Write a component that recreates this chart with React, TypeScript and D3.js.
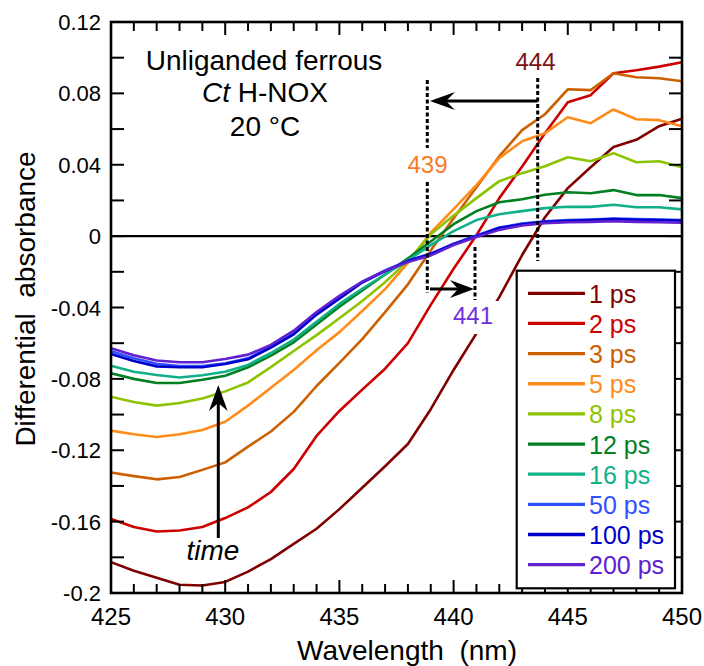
import React from "react";
import * as d3 from "d3";

const wavelengths = [425,426,427,428,429,430,431,432,433,434,435,436,437,438,439,440,441,442,443,444,445,446,447,448,449,450];

const s1ps = [-0.1827,-0.1875,-0.1915,-0.1954,-0.1958,-0.1938,-0.188,-0.181,-0.1725,-0.164,-0.153,-0.141,-0.129,-0.1165,-0.097,-0.075,-0.0545,-0.0342,-0.0106,0.0106,0.0269,0.0386,0.050,0.054,0.0616,0.0658];
const s2ps = [-0.1585,-0.163,-0.1655,-0.165,-0.163,-0.158,-0.152,-0.1434,-0.1305,-0.112,-0.098,-0.086,-0.0743,-0.060,-0.0385,-0.0183,0.0005,0.0213,0.039,0.0577,0.075,0.079,0.0913,0.093,0.095,0.0974];
const s3ps = [-0.1325,-0.1345,-0.1363,-0.135,-0.131,-0.1268,-0.118,-0.1095,-0.0985,-0.084,-0.071,-0.0577,-0.0426,-0.027,-0.008,0.010,0.0274,0.0448,0.0594,0.0683,0.0823,0.0818,0.0913,0.089,0.0885,0.0868];
const s5ps = [-0.109,-0.111,-0.1126,-0.111,-0.1086,-0.104,-0.095,-0.085,-0.075,-0.064,-0.0538,-0.042,-0.0297,-0.015,0.002,0.0151,0.0286,0.0437,0.0532,0.0577,0.0666,0.0633,0.071,0.0655,0.065,0.0616];
const s8ps = [-0.090,-0.093,-0.095,-0.0935,-0.091,-0.087,-0.082,-0.0734,-0.0644,-0.0555,-0.046,-0.0364,-0.0258,-0.014,0.001,0.0115,0.0213,0.0308,0.0353,0.0392,0.0442,0.042,0.0465,0.0414,0.042,0.0386];
const s12ps = [-0.0769,-0.080,-0.0823,-0.0823,-0.0805,-0.0782,-0.0735,-0.067,-0.0595,-0.0495,-0.0395,-0.0305,-0.0215,-0.0125,-0.003,0.0067,0.014,0.019,0.0207,0.0232,0.0246,0.024,0.0258,0.023,0.023,0.0213];
const s16ps = [-0.0726,-0.076,-0.0778,-0.0792,-0.078,-0.076,-0.0722,-0.0655,-0.058,-0.048,-0.038,-0.0295,-0.0215,-0.0135,-0.005,0.0028,0.009,0.0123,0.014,0.0157,0.0165,0.0164,0.0176,0.0162,0.0162,0.015];
const s50ps = [-0.0645,-0.0685,-0.0715,-0.0728,-0.0728,-0.0712,-0.0685,-0.062,-0.0545,-0.0435,-0.0345,-0.0257,-0.0192,-0.0137,-0.0098,-0.0042,0.0003,0.0048,0.007,0.0083,0.009,0.0093,0.0098,0.0095,0.0093,0.009];
const s100ps = [-0.066,-0.070,-0.073,-0.0735,-0.0735,-0.0717,-0.069,-0.0625,-0.055,-0.044,-0.035,-0.026,-0.0196,-0.014,-0.010,-0.0045,0.0,0.0045,0.0067,0.008,0.0086,0.009,0.0095,0.0092,0.009,0.0087];
const s200ps = [-0.0629,-0.0668,-0.0697,-0.0707,-0.0707,-0.0689,-0.0664,-0.061,-0.053,-0.0425,-0.0335,-0.0255,-0.0195,-0.0145,-0.0108,-0.005,-0.0005,0.0035,0.006,0.0073,0.0078,0.008,0.0083,0.008,0.0078,0.0075];

const seriesLabels = ["1 ps","2 ps","3 ps","5 ps","8 ps","12 ps","16 ps","50 ps","100 ps","200 ps"];
const seriesValues = [s1ps,s2ps,s3ps,s5ps,s8ps,s12ps,s16ps,s50ps,s100ps,s200ps];
const seriesColors = ["#800000","#cc0000","#cc6000","#ff8c1a","#8cc400","#008020","#10b088","#3050ff","#0000cc","#6020d0"];

const yTickLabels = ["0.12","0.08","0.04","0","-0.04","-0.08","-0.12","-0.16","-0.2"];
const xTickLabels = ["425","430","435","440","445","450"];

const FONT = "'Liberation Sans', Arial, Helvetica, sans-serif";

export default function App() {
  const L = 111, R = 682, T = 22, B = 593;
  const x = d3.scaleLinear().domain([425, 450]).range([L, R]);
  const y = d3.scaleLinear().domain([-0.2, 0.12]).range([B, T]);
  const line = d3.line<number>().x((_, i) => x(wavelengths[i])).y((v) => y(v));

  const xMinor = d3.range(425, 451, 1);
  const yMinor = d3.range(-0.2, 0.1201, 0.02).map((v) => Math.round(v * 100) / 100);

  const legX = 516.7, legY = 270.7, legW = 158.3, legH = 317.6;
  const rowY0 = 293.3, rowDy = 30.15;

  return (
    <svg width={704} height={666} style={{ position: "absolute", left: 0, top: 0 }} fontFamily={FONT}>
      <rect x={0} y={0} width={704} height={666} fill="#fff" />
      {/* zero line */}
      <line x1={L} x2={R} y1={y(0)} y2={y(0)} stroke="#000" strokeWidth={2.2} />
      {/* curves */}
      {seriesValues.map((vals, i) => (
        <path key={i} d={line(vals) || ""} fill="none" stroke={seriesColors[i]} strokeWidth={2.6} strokeLinejoin="round" />
      ))}
      {/* ticks */}
      {xMinor.map((w) => {
        const len = w % 5 === 0 ? 13 : 9;
        return (
          <g key={"xt" + w}>
            <line x1={x(w)} x2={x(w)} y1={B} y2={B - len} stroke="#000" strokeWidth={2} />
            <line x1={x(w)} x2={x(w)} y1={T} y2={T + len} stroke="#000" strokeWidth={2} />
          </g>
        );
      })}
      {yMinor.map((v) => (
        <g key={"yt" + v}>
          <line x1={L} x2={L + 13} y1={y(v)} y2={y(v)} stroke="#000" strokeWidth={2} />
          <line x1={R} x2={R - 13} y1={y(v)} y2={y(v)} stroke="#000" strokeWidth={2} />
        </g>
      ))}
      {/* frame */}
      <rect x={L} y={T} width={R - L} height={B - T} fill="none" stroke="#000" strokeWidth={2.6} />
      {/* tick labels */}
      {yTickLabels.map((t) => (
        <text key={"yl" + t} x={101} y={y(parseFloat(t)) + 8} textAnchor="end" fontSize={22} fill="#000">{t}</text>
      ))}
      {xTickLabels.map((t) => (
        <text key={"xl" + t} x={x(parseFloat(t))} y={625} textAnchor="middle" fontSize={24} fill="#000">{t}</text>
      ))}
      {/* axis titles */}
      <text x={407} y={660} textAnchor="middle" fontSize={28} fill="#000" style={{ whiteSpace: "pre" }}>{"Wavelength  (nm)"}</text>
      <text transform="translate(35,299) rotate(-90)" textAnchor="middle" fontSize={28} fill="#000" style={{ whiteSpace: "pre" }}>{"Differential  absorbance"}</text>
      {/* sample annotation */}
      <text x={264} y={70} textAnchor="middle" fontSize={28} fill="#000">Unliganded ferrous</text>
      <text x={265} y={102} textAnchor="middle" fontSize={28} fill="#000"><tspan fontStyle="italic">Ct</tspan> H-NOX</text>
      <text x={265} y={136} textAnchor="middle" fontSize={28} fill="#000">20 °C</text>
      {/* dashed markers */}
      <line x1={427.3} x2={427.3} y1={80} y2={148} stroke="#000" strokeWidth={3} strokeDasharray="4 2.5" />
      <line x1={427.3} x2={427.3} y1={182} y2={293} stroke="#000" strokeWidth={3} strokeDasharray="4 2.5" />
      <line x1={537.7} x2={537.7} y1={78} y2={261} stroke="#000" strokeWidth={3} strokeDasharray="4 2.5" />
      <line x1={475} x2={475} y1={247} y2={300} stroke="#000" strokeWidth={3} strokeDasharray="4 2.5" />
      {/* arrows */}
      <line x1={537.7} x2={446} y1={101} y2={101} stroke="#000" strokeWidth={3} />
      <path d="M430,101 L455,92 L446,101 L455,110 Z" fill="#000" />
      <line x1={430} x2={462} y1={289} y2={289} stroke="#000" strokeWidth={3} />
      <path d="M474,289 L450,280 L458,289 L450,298 Z" fill="#000" />
      <line x1={218.3} x2={218.3} y1={538} y2={400} stroke="#000" strokeWidth={3} />
      <path d="M218.3,385 L209,411 L218.3,403 L227.6,411 Z" fill="#000" />
      <text x={213} y={560} textAnchor="middle" fontSize={28} fontStyle="italic" fill="#000">time</text>
      {/* crossing labels */}
      <text x={535.5} y={70} textAnchor="middle" fontSize={24} fill="#7a1414">444</text>
      <text x={427.5} y={173} textAnchor="middle" fontSize={24} fill="#f87c28">439</text>
      <rect x={451} y={301} width={48} height={33} fill="#fff" />
      <text x={473} y={324} textAnchor="middle" fontSize={24} fill="#7030e0">441</text>
      {/* legend */}
      <rect x={legX} y={legY} width={legW} height={legH} fill="#fff" stroke="#000" strokeWidth={2.2} />
      {seriesLabels.map((lab, i) => {
        const ry = rowY0 + i * rowDy;
        return (
          <g key={"lg" + i}>
            <line x1={528} x2={585} y1={ry} y2={ry} stroke={seriesColors[i]} strokeWidth={3.3} />
            <text x={589} y={ry + 9.5} fontSize={25} fill={seriesColors[i]}>{lab}</text>
          </g>
        );
      })}
    </svg>
  );
}
